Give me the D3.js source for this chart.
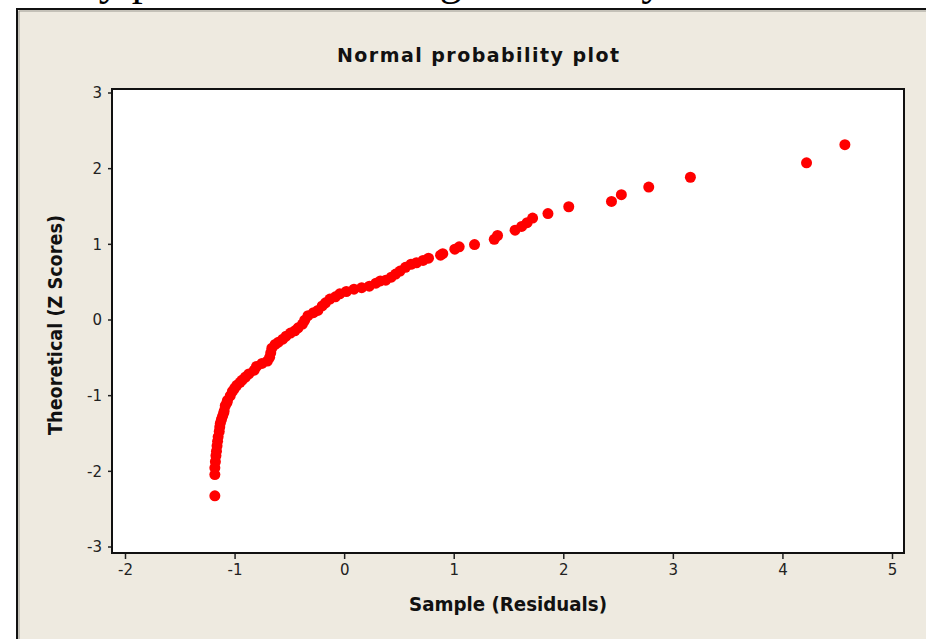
<!DOCTYPE html>
<html>
<head>
<meta charset="utf-8">
<script src="https://cdn.jsdelivr.net/npm/d3@7"></script>
<style>
  body { margin: 0; background: #fff; overflow: hidden; }
  svg { display: block; }
</style>
</head>
<body>
<script>
var width = 926,
    height = 639;

// sample residuals (x) and theoretical z scores (y)
var sample = [-1.18, -1.18, -1.18, -1.175, -1.17, -1.165, -1.16, -1.155, -1.15, -1.14,
    -1.135, -1.13, -1.12, -1.11, -1.10, -1.095, -1.085, -1.07, -1.065, -1.04,
    -1.02, -1.00, -0.98, -0.95, -0.93, -0.90, -0.87, -0.82, -0.80, -0.75,
    -0.70, -0.68, -0.67, -0.66, -0.63, -0.60, -0.56, -0.53, -0.49, -0.45,
    -0.42, -0.38, -0.36, -0.33, -0.28, -0.24, -0.20, -0.17, -0.13, -0.08,
    -0.04, 0.02, 0.09, 0.16, 0.23, 0.29, 0.33, 0.38, 0.43, 0.47,
    0.51, 0.56, 0.61, 0.66, 0.72, 0.77, 0.88, 0.90, 1.01, 1.05,
    1.19, 1.37, 1.40, 1.56, 1.62, 1.67, 1.72, 1.86, 2.05, 2.44,
    2.53, 2.78, 3.16, 4.22, 4.57];
var zscores = [-2.33, -2.05, -1.96, -1.88, -1.80, -1.74, -1.67, -1.61, -1.55, -1.48,
    -1.42, -1.37, -1.32, -1.28, -1.24, -1.21, -1.14, -1.10, -1.07, -1.01,
    -0.95, -0.91, -0.87, -0.83, -0.80, -0.76, -0.72, -0.67, -0.62, -0.58,
    -0.55, -0.50, -0.44, -0.38, -0.33, -0.30, -0.26, -0.22, -0.18, -0.15,
    -0.11, -0.06, -0.01, 0.05, 0.09, 0.12, 0.18, 0.22, 0.27, 0.30,
    0.34, 0.37, 0.40, 0.42, 0.44, 0.48, 0.51, 0.52, 0.56, 0.60,
    0.64, 0.69, 0.73, 0.75, 0.78, 0.81, 0.85, 0.87, 0.93, 0.96,
    0.99, 1.06, 1.11, 1.18, 1.23, 1.28, 1.34, 1.40, 1.49, 1.56,
    1.65, 1.75, 1.88, 2.07, 2.31];
var xTicks = [-2, -1, 0, 1, 2, 3, 4, 5],
    yTicks = [-3, -2, -1, 0, 1, 2, 3];

var plotLeft = 112, plotTop = 89, plotRight = 904, plotBottom = 553;

var svg = d3.select("body").append("svg")
    .attr("width", width)
    .attr("height", height);

// cut-off line of page text above the figure
var pageText = svg.append("g")
    .style("font-family", "'Liberation Serif', serif")
    .style("font-size", "44px")
    .style("fill", "#000");
pageText.append("text").attr("x", 62).attr("y", -5).text("lity plot");
pageText.append("text").attr("x", 408).attr("y", -5).text("lag");
pageText.append("text").attr("x", 590).attr("y", -5).text("way");

// beige panel
svg.append("rect")
    .attr("x", 17).attr("y", 9)
    .attr("width", 1000).attr("height", 1000)
    .style("fill", "#eeeae0")
    .style("stroke", "#111")
    .style("stroke-width", 2);
svg.append("path")
    .attr("d", "M19,1000V11H1000")
    .style("fill", "none")
    .style("stroke", "#9a9890")
    .style("stroke-width", 1);

var x = d3.scaleLinear()
    .domain([-2, 5])
    .range([125, 892]);
var y = d3.scaleLinear()
    .domain([-3, 3])
    .range([546.5, 92.5]);

// plot area
svg.append("rect")
    .attr("x", plotLeft).attr("y", plotTop)
    .attr("width", plotRight - plotLeft).attr("height", plotBottom - plotTop)
    .style("fill", "#fff");

var fmt = function(d) { return String(d); };   // plain hyphen minus, like the original

var xAxis = svg.append("g")
    .attr("transform", "translate(0," + plotBottom + ")")
    .call(d3.axisBottom(x).tickValues(xTicks).tickSize(6).tickPadding(5).tickFormat(fmt));
var yAxis = svg.append("g")
    .attr("transform", "translate(" + plotLeft + ",0)")
    .call(d3.axisLeft(y).tickValues(yTicks).tickSize(4).tickPadding(6).tickFormat(fmt));

[xAxis, yAxis].forEach(function(a) {
    a.select(".domain").remove();
    a.selectAll("line").style("stroke", "#222").style("stroke-width", 1.5);
    a.selectAll("text")
        .style("font-family", "'DejaVu Sans', sans-serif")
        .style("font-size", "15px")
        .style("fill", "#222");
});
yAxis.selectAll("text").attr("dy", "0.36em");

svg.append("rect")
    .attr("x", plotLeft).attr("y", plotTop)
    .attr("width", plotRight - plotLeft).attr("height", plotBottom - plotTop)
    .style("fill", "none")
    .style("stroke", "#111")
    .style("stroke-width", 2);

// points
svg.append("g").selectAll("circle")
    .data(sample)
    .enter().append("circle")
    .attr("cx", function(d) { return x(d); })
    .attr("cy", function(d, i) { return y(zscores[i]); })
    .attr("r", 5.5)
    .style("fill", "#ff0000");

// titles
svg.append("text")
    .attr("x", 478).attr("y", 62)
    .attr("text-anchor", "middle")
    .attr("textLength", 282)
    .attr("lengthAdjust", "spacing")
    .style("font-family", "'DejaVu Sans', sans-serif")
    .style("font-weight", "bold")
    .style("font-size", "19px")
    .style("fill", "#111")
    .text("Normal probability plot");

svg.append("text")
    .attr("x", 508).attr("y", 611)
    .attr("text-anchor", "middle")
    .attr("textLength", 198)
    .attr("lengthAdjust", "spacingAndGlyphs")
    .style("font-family", "'DejaVu Sans Condensed', 'DejaVu Sans', sans-serif")
    .style("font-weight", "bold")
    .style("font-size", "19px")
    .style("fill", "#111")
    .text("Sample (Residuals)");

svg.append("text")
    .attr("transform", "translate(62,325) rotate(-90)")
    .attr("text-anchor", "middle")
    .attr("textLength", 220)
    .attr("lengthAdjust", "spacingAndGlyphs")
    .style("font-family", "'DejaVu Sans Condensed', 'DejaVu Sans', sans-serif")
    .style("font-weight", "bold")
    .style("font-size", "19px")
    .style("fill", "#111")
    .text("Theoretical (Z Scores)");
</script>
</body>
</html>
